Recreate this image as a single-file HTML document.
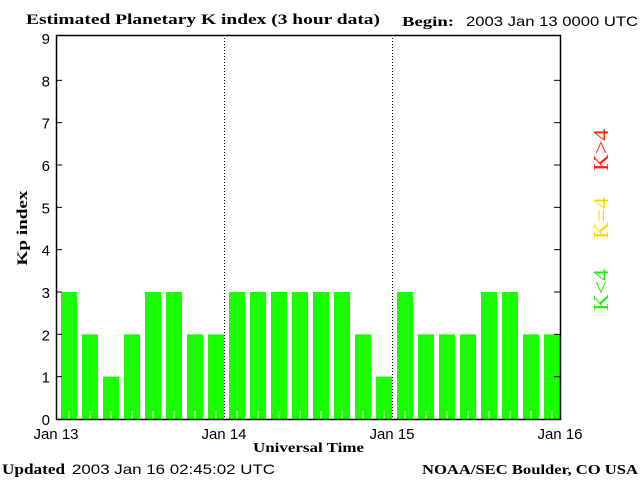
<!DOCTYPE html>
<html><head><meta charset="utf-8"><style>
body{margin:0;background:#fff;width:640px;height:480px;overflow:hidden}
svg text{font-family:"Liberation Serif",serif}
</style></head><body>
<svg id="c" width="640" height="480" xmlns="http://www.w3.org/2000/svg">
<text x="26" y="24" font-size="15" font-weight="bold" textLength="354" lengthAdjust="spacingAndGlyphs">Estimated Planetary K index (3 hour data)</text>
<text x="402" y="26" font-size="14" font-weight="bold" textLength="52" lengthAdjust="spacingAndGlyphs">Begin:</text>
<text x="466" y="26" font-size="14" textLength="172" lengthAdjust="spacingAndGlyphs" style="font-family:'Liberation Sans',sans-serif">2003 Jan 13 0000 UTC</text>
<text x="27" y="228" font-size="15" font-weight="bold" textLength="75" lengthAdjust="spacingAndGlyphs" transform="rotate(-90 27 228)" text-anchor="middle">Kp index</text>
<text x="253" y="452" font-size="14" font-weight="bold" textLength="111" lengthAdjust="spacingAndGlyphs">Universal Time</text>
<text x="2" y="474" font-size="15" font-weight="bold" textLength="63" lengthAdjust="spacingAndGlyphs">Updated</text>
<text x="72" y="474" font-size="14" textLength="203" lengthAdjust="spacingAndGlyphs" style="font-family:'Liberation Sans',sans-serif">2003 Jan 16 02:45:02 UTC</text>
<text x="422" y="474" font-size="14" font-weight="bold" textLength="216" lengthAdjust="spacingAndGlyphs">NOAA/SEC Boulder, CO USA</text>
<text x="608" y="150" font-size="21" fill="#ff2000" text-anchor="middle" textLength="42" lengthAdjust="spacingAndGlyphs" transform="rotate(-90 608 150)">K&gt;4</text>
<text x="608" y="218" font-size="21" fill="#ffd700" text-anchor="middle" textLength="42" lengthAdjust="spacingAndGlyphs" transform="rotate(-90 608 218)">K=4</text>
<text x="608" y="290" font-size="21" fill="#22ee00" text-anchor="middle" textLength="42" lengthAdjust="spacingAndGlyphs" transform="rotate(-90 608 290)">K&lt;4</text>
<g id="plot"></g>
</svg>
<script>
const kpValues=[3,2,1,2,3,3,2,2,3,3,3,3,3,3,2,1,3,2,2,2,3,3,2,2];
const yTicks=[0,1,2,3,4,5,6,7,8,9];
const dayLabels=["Jan 13","Jan 14","Jan 15","Jan 16"];
const L=56,R=560,T=35,B=419;
const x=i=>L+(R-L)*i/kpValues.length;
const y=v=>B-(B-38)*v/9;
const NS="http://www.w3.org/2000/svg";
const g=document.getElementById('plot');
function mk(t,a){const e=document.createElementNS(NS,t);for(const k in a)e.setAttribute(k,a[k]);g.appendChild(e);return e;}
const bw=(R-L)/kpValues.length;
kpValues.forEach((v,i)=>{
 const c=v>4?'#ff2000':v==4?'#ffd700':'#1aff00';
 const r=mk('rect',{x:x(i)+5,y:y(v),width:bw-5,height:B-y(v),fill:c});
 
 
 const t=mk('line',{x1:x(i)+bw/2+2.5,x2:x(i)+bw/2+2.5,y1:B-8,y2:B,stroke:'#fff','stroke-width':1});
 
 
});
const days=dayLabels.length-1;
for(let d=1;d<days;d++){
 const xx=L+(R-L)*d/days;
 const l=mk('line',{x1:xx+0.5,x2:xx+0.5,y1:T,y2:B,stroke:'#000','stroke-dasharray':'1,2'});
 
 
}
dayLabels.forEach((s,d)=>{
 const t=mk('text',{x:L+(R-L)*d/days,y:439,'font-size':15,'text-anchor':'middle',style:"font-family:'Liberation Sans',sans-serif"});
 t.textContent=s;
 
 
});
yTicks.forEach(v=>{
 const t=mk('text',{x:50,y:y(v)+6,'font-size':15,'text-anchor':'end',style:"font-family:'Liberation Sans',sans-serif"});
 t.textContent=v;
 
 
 if(v>0&&v<9){
  const a=mk('line',{x1:L,x2:L+6,y1:y(v),y2:y(v),stroke:'#000'});
  
  
  const b=mk('line',{x1:R-6,x2:R,y1:y(v),y2:y(v),stroke:'#000'});
  
  
 }
});
const f=mk('rect',{x:L+0.5,y:T+0.5,width:R-L,height:B-T,fill:'none',stroke:'#000','stroke-width':1.5});


</script>
</body></html>
